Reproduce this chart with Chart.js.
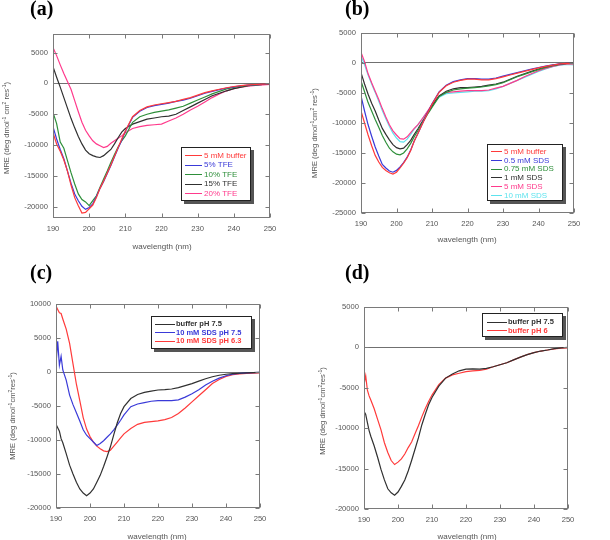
<!DOCTYPE html>
<html><head><meta charset="utf-8">
<script src="https://cdn.jsdelivr.net/npm/chart.js@4.4.1/dist/chart.umd.min.js"></script>
<style>
body{margin:0;width:610px;height:540px;position:relative;overflow:hidden;background:#fff;font-family:"Liberation Sans",Arial,sans-serif;}
canvas{position:absolute;left:0;top:0;}
.lab{position:absolute;font:bold 20px "Liberation Serif","Times New Roman",serif;color:#000;line-height:20px;white-space:nowrap;}
.xt{position:absolute;font-size:8px;color:#555;white-space:nowrap;transform:translate(-50%,-50%);line-height:1;}
.yt{position:absolute;font-size:7.6px;color:#555;white-space:nowrap;transform:translate(-50%,-50%) rotate(-90deg);line-height:1;}
.yt sup{font-size:5px;vertical-align:3px;line-height:0;}
</style></head>
<body>
<canvas id="ca" width="610" height="540"></canvas>
<canvas id="cb" width="610" height="540"></canvas>
<canvas id="cc" width="610" height="540"></canvas>
<canvas id="cd" width="610" height="540"></canvas>

<div class="lab" style="left:30px;top:-2px">(a)</div>
<div class="lab" style="left:345px;top:-2px">(b)</div>
<div class="lab" style="left:30px;top:262px">(c)</div>
<div class="lab" style="left:345px;top:262px">(d)</div>

<div class="xt" style="left:162px;top:247px">wavelength (nm)</div>
<div class="xt" style="left:467px;top:240px">wavelength (nm)</div>
<div class="xt" style="left:157px;top:537px">wavelength (nm)</div>
<div class="xt" style="left:467px;top:537px">wavelength (nm)</div>

<div class="yt" style="left:7px;top:128px">MRE (deg dmol<sup>-1</sup> cm<sup>2</sup> res<sup>-1</sup>)</div>
<div class="yt" style="left:315px;top:133px">MRE (deg dmol<sup>-1</sup>cm<sup>2</sup> res<sup>-1</sup>)</div>
<div class="yt" style="left:13px;top:416px">MRE (deg dmol<sup>-1</sup>cm<sup>2</sup>res<sup>-1</sup>)</div>
<div class="yt" style="left:323px;top:411px">MRE (deg dmol<sup>-1</sup>cm<sup>2</sup>res<sup>-1</sup>)</div>

<script>
// ---------- DATA ----------
const wlAB = [190,191,192,193,194,195,196,197,198,199,200,201,202,203,204,205,206,207,208,209,210,
  212,214,216,218,220,222,224,226,228,230,232,234,236,238,240,242,244,246,248,250];
const wlCD = [190,190.5,191,191.5,192,193,194,195,196,197,198,199,200,201,202,203,204,205,206,207,208,209,210,
  212,214,216,218,220,222,224,226,228,230,232,234,236,238,240,242,244,246,248,250];

const xTicks = [190,200,210,220,230,240,250];
const yTicksA = [-20000,-15000,-10000,-5000,0,5000];
const yTicksB = [-25000,-20000,-15000,-10000,-5000,0,5000];
const yTicksC = [-20000,-15000,-10000,-5000,0,5000,10000];
const yTicksD = [-20000,-15000,-10000,-5000,0,5000];

// (a)
const labelsA = ["5 mM buffer","5% TFE","10% TFE","15% TFE","20% TFE"];
const a_buffer = [-8000,-9800,-11000,-12400,-14200,-16500,-18500,-19800,-21000,-20900,-20300,-19700,-18500,-17000,-15800,-14500,-13200,-11800,-10400,-9000,-7700,
  -5400,-4400,-3800,-3500,-3300,-3100,-2900,-2600,-2300,-1900,-1500,-1200,-950,-700,-500,-350,-250,-180,-130,-100];
const a_tfe5 = [-7000,-9000,-10700,-12200,-14200,-16200,-17900,-19000,-19900,-20400,-20100,-19500,-18300,-17000,-15900,-14600,-13300,-11900,-10500,-9200,-7800,
  -5500,-4500,-3900,-3600,-3400,-3200,-2900,-2700,-2400,-2000,-1600,-1300,-1000,-750,-550,-380,-260,-200,-150,-100];
const a_tfe10 = [-4700,-6500,-9500,-10500,-12500,-14500,-16300,-17900,-18800,-19200,-19800,-19000,-18200,-16800,-15500,-14200,-12800,-11500,-10300,-9300,-8500,
  -6300,-5400,-5000,-4700,-4500,-4300,-4000,-3700,-3200,-2700,-2200,-1700,-1300,-900,-650,-450,-320,-230,-160,-100];
const a_tfe15 = [2700,1000,-600,-2300,-4000,-5700,-7200,-8600,-9800,-10800,-11400,-11700,-11900,-12000,-11700,-11200,-10700,-9800,-8800,-7900,-7300,
  -6600,-6200,-5800,-5600,-5400,-5300,-5000,-4400,-3800,-3200,-2600,-2000,-1600,-1200,-850,-600,-380,-230,-150,-100];
const a_tfe20 = [5800,4500,3000,1600,300,-1000,-2800,-4600,-6300,-7600,-8500,-9300,-9800,-10100,-10400,-10200,-9700,-9300,-8900,-8500,-8000,
  -7300,-7000,-6800,-6700,-6600,-6100,-5600,-5000,-4300,-3700,-3000,-2300,-1700,-1200,-850,-600,-450,-330,-230,-170];

// (b)
const labelsB = ["5 mM buffer","0.5 mM SDS","0.75 mM SDS","1 mM SDS","5 mM SDS","10 mM SDS"];
const b_buffer = [-8000,-10000,-12000,-13800,-15400,-16500,-17400,-17900,-18300,-18500,-18200,-17500,-16700,-15800,-14600,-13000,-11800,-10500,-9300,-8100,-6900,
  -4900,-3800,-3200,-2900,-2700,-2700,-2800,-2800,-2600,-2300,-2000,-1700,-1400,-1100,-800,-550,-350,-150,-50,-100];
const b_sds05 = [-5500,-8000,-10300,-12200,-14000,-15500,-16900,-17500,-18000,-18200,-17900,-17300,-16600,-15700,-14500,-13000,-11800,-10500,-9200,-8000,-6800,
  -4800,-3700,-3100,-2800,-2600,-2600,-2700,-2700,-2500,-2200,-1900,-1600,-1300,-1000,-750,-500,-300,-150,-50,-80];
const b_sds075 = [-3000,-4800,-6600,-8000,-9400,-10700,-12100,-13200,-14200,-14800,-15200,-15300,-15000,-14300,-13400,-12300,-11300,-10200,-9300,-8300,-7400,
  -5600,-4900,-4500,-4300,-4200,-4100,-4000,-3800,-3600,-3300,-2800,-2300,-1900,-1500,-1100,-750,-450,-220,-80,-60];
const b_sds1 = [-1600,-3500,-5200,-6700,-8000,-9500,-10900,-11900,-12800,-13600,-14100,-14300,-14200,-13600,-12900,-11900,-11000,-10000,-9100,-8100,-7200,
  -5500,-4700,-4300,-4100,-4100,-4000,-3900,-3700,-3500,-3200,-2700,-2200,-1800,-1400,-1000,-700,-400,-200,-60,-50];
const b_sds5 = [1800,200,-1800,-3300,-4700,-6100,-7600,-9000,-10300,-11300,-12000,-12600,-12700,-12300,-11600,-10900,-10300,-9500,-8700,-7800,-6900,
  -5500,-4900,-4800,-4700,-4600,-4600,-4600,-4500,-4200,-3900,-3400,-2900,-2300,-1800,-1300,-900,-550,-300,-150,-150];
const b_sds10 = [1200,-300,-2000,-3500,-4900,-6400,-7900,-9300,-10600,-11700,-12500,-13100,-13200,-12700,-11900,-11000,-10300,-9500,-8700,-7900,-7100,
  -5700,-5100,-5000,-4900,-4800,-4700,-4700,-4600,-4300,-3900,-3400,-2900,-2400,-1900,-1400,-1000,-600,-350,-250,-300];

// (c)
const labelsC = ["buffer pH 7.5","10 mM SDS pH 7.5","10 mM SDS pH 6.3"];
const c_buf75 = [-7700,-8200,-8700,-9800,-10400,-12000,-13700,-15000,-16200,-17200,-17800,-18200,-17800,-17200,-16200,-15200,-13900,-12500,-11000,-9200,-7500,-6100,-5100,
  -3900,-3300,-3000,-2800,-2650,-2600,-2500,-2300,-2000,-1700,-1350,-1000,-700,-480,-330,-250,-180,-130,-90,-50];
const c_sds75 = [1200,4500,1000,2300,300,-1200,-3400,-4800,-6000,-7200,-8500,-9300,-9800,-10300,-10800,-10500,-10100,-9600,-9100,-8500,-7800,-7100,-6300,
  -5100,-4700,-4500,-4300,-4200,-4200,-4200,-4100,-3700,-3200,-2600,-1900,-1350,-900,-550,-320,-200,-130,-80,-50];
const c_sds63 = [9700,9200,8700,8600,7800,6300,4200,1200,-1800,-4200,-6700,-8400,-9500,-10300,-10900,-11300,-11600,-11700,-11500,-10900,-10300,-9700,-9100,
  -8300,-7700,-7400,-7300,-7200,-7000,-6700,-6100,-5300,-4400,-3500,-2600,-1700,-1100,-650,-400,-280,-220,-180,-150];

// (d)
const labelsD = ["buffer pH 7.5","buffer pH 6"];
const d_buf75 = [-7900,-8300,-9300,-10300,-11000,-12200,-13600,-15100,-16400,-17500,-18000,-18300,-17900,-17200,-16400,-15300,-14000,-12600,-11200,-9600,-8300,-7100,-6200,
  -4800,-3800,-3300,-2900,-2700,-2650,-2700,-2600,-2400,-2150,-1900,-1550,-1200,-900,-650,-450,-320,-150,-60,0];
const d_buf6 = [-4600,-3500,-5300,-6000,-6500,-7600,-8900,-10200,-11800,-13000,-14000,-14500,-14200,-13800,-13200,-12400,-11700,-10700,-9700,-8600,-7600,-6700,-5900,
  -4600,-3800,-3400,-3200,-3000,-2900,-2850,-2700,-2400,-2150,-1900,-1550,-1200,-900,-650,-450,-320,-180,-100,-50];

// ---------- STYLE ----------
const RED='#ff3a3a', BLUE='#3a3ad8', GREEN='#2e8f3a', BLACK='#303030', PINK='#ff3a8c', CYAN='#5de3ee';

const framePlugin = {
  id:'frame',
  afterDatasetsDraw(chart, args, o){
    const ctx = chart.ctx, ca = chart.chartArea, xs = chart.scales.x, ys = chart.scales.y;
    ctx.save();
    ctx.strokeStyle = '#7a7a7a'; ctx.lineWidth = 1;
    const L = Math.round(ca.left)+0.5, R = Math.round(ca.right)-0.5, T = Math.round(ca.top)+0.5, B = Math.round(ca.bottom)-0.5;
    ctx.strokeRect(L, T, R-L, B-T);
    ctx.beginPath();
    xs.ticks.forEach(t=>{const p=Math.round(xs.getPixelForValue(t.value))+0.5; ctx.moveTo(p,B); ctx.lineTo(p,B-4); ctx.moveTo(p,T); ctx.lineTo(p,T+4);});
    ys.ticks.forEach(t=>{const p=Math.round(ys.getPixelForValue(t.value))+0.5; ctx.moveTo(L,p); ctx.lineTo(L+4,p); ctx.moveTo(R,p); ctx.lineTo(R-4,p);});
    ctx.stroke();
    // legend
    const lg = o.legend;
    if (lg){
      ctx.fillStyle = '#555';
      ctx.fillRect(lg.x+3, lg.y+3, lg.w, lg.h);
      ctx.fillStyle = '#fff';
      ctx.fillRect(lg.x, lg.y, lg.w, lg.h);
      ctx.strokeStyle = '#222'; ctx.lineWidth = 1;
      ctx.strokeRect(lg.x+0.5, lg.y+0.5, lg.w-1, lg.h-1);
      ctx.font = (lg.bold?'bold ':'') + lg.size + 'px "Liberation Sans", Arial, sans-serif';
      ctx.textBaseline = 'middle'; ctx.textAlign = 'left';
      chart.data.datasets.forEach((ds,i)=>{
        const yy = lg.rows[i];
        ctx.strokeStyle = ds.borderColor; ctx.lineWidth = 1;
        ctx.beginPath(); ctx.moveTo(lg.l0, Math.round(yy)+0.5); ctx.lineTo(lg.l1, Math.round(yy)+0.5); ctx.stroke();
        ctx.fillStyle = ds.borderColor;
        ctx.fillText(ds.label, lg.tx, yy+0.5);
      });
    }
    ctx.restore();
  }
};

function mk(id, wl, series, labels, colors, area, ymin, ymax, yticks, legend){
  const datasets = series.map((s,i)=>({
    label: labels[i],
    data: wl.map((x,j)=>({x:x, y:s[j]})),
    borderColor: colors[i], borderWidth: 1.2, pointRadius: 0, tension: 0, fill:false
  }));
  const yw = 40, xh = 20;
  return new Chart(document.getElementById(id), {
    type:'line',
    data:{datasets},
    options:{
      responsive:false, animation:false, devicePixelRatio:1,
      layout:{padding:{left:area.l-yw, right:610-area.r, top:area.t, bottom:540-area.b-xh}},
      plugins:{legend:{display:false}, tooltip:{enabled:false}, frame:{legend}},
      scales:{
        x:{type:'linear', min:190, max:250,
           afterBuildTicks:(sc)=>{sc.ticks = xTicks.map(v=>({value:v}));},
           afterFit:(sc)=>{sc.height = xh;},
           grid:{display:false, drawTicks:false}, border:{display:false},
           ticks:{padding:6, color:'#555', font:{size:7.6, family:'"Liberation Sans", Arial, sans-serif'}, maxRotation:0, callback:(v)=>String(v)}},
        y:{type:'linear', min:ymin, max:ymax,
           afterBuildTicks:(sc)=>{sc.ticks = yticks.map(v=>({value:v}));},
           afterFit:(sc)=>{sc.width = yw;},
           grid:{drawTicks:false, color:(c)=> (c.tick && c.tick.value===0) ? '#707070' : 'rgba(0,0,0,0)', lineWidth:1}, border:{display:false},
           ticks:{padding:5, color:'#555', font:{size:7.6, family:'"Liberation Sans", Arial, sans-serif'}, callback:(v)=>String(v)}}
      }
    },
    plugins:[framePlugin]
  });
}

mk('ca', wlAB, [a_buffer,a_tfe5,a_tfe10,a_tfe15,a_tfe20], labelsA, [RED,BLUE,GREEN,BLACK,PINK],
   {l:53,r:270,t:34,b:218}, -21800, 8000, yTicksA,
   {x:181,y:147,w:70,h:54,l0:185,l1:202,tx:204,size:8,bold:false,rows:[155,164.5,174,183.5,193]});
mk('cb', wlAB, [b_buffer,b_sds05,b_sds075,b_sds1,b_sds5,b_sds10], labelsB, [RED,BLUE,GREEN,BLACK,PINK,CYAN],
   {l:361,r:574,t:33,b:213}, -25000, 5000, yTicksB,
   {x:487,y:144,w:76,h:57,l0:491,l1:502,tx:504,size:8,bold:false,rows:[151,159.8,168.6,177.4,186.2,195]});
mk('cc', wlCD, [c_buf75,c_sds75,c_sds63], labelsC, [BLACK,BLUE,RED],
   {l:56,r:260,t:304,b:508}, -20000, 10000, yTicksC,
   {x:151,y:316,w:101,h:33,l0:155,l1:175,tx:176,size:7.5,bold:true,rows:[323.5,332,340.5]});
mk('cd', wlCD, [d_buf75,d_buf6], labelsD, [BLACK,RED],
   {l:364,r:568,t:307,b:509}, -20000, 5000, yTicksD,
   {x:482,y:313,w:81,h:24,l0:487,l1:507,tx:508,size:7.5,bold:true,rows:[321.5,330]});
</script>
</body></html>
